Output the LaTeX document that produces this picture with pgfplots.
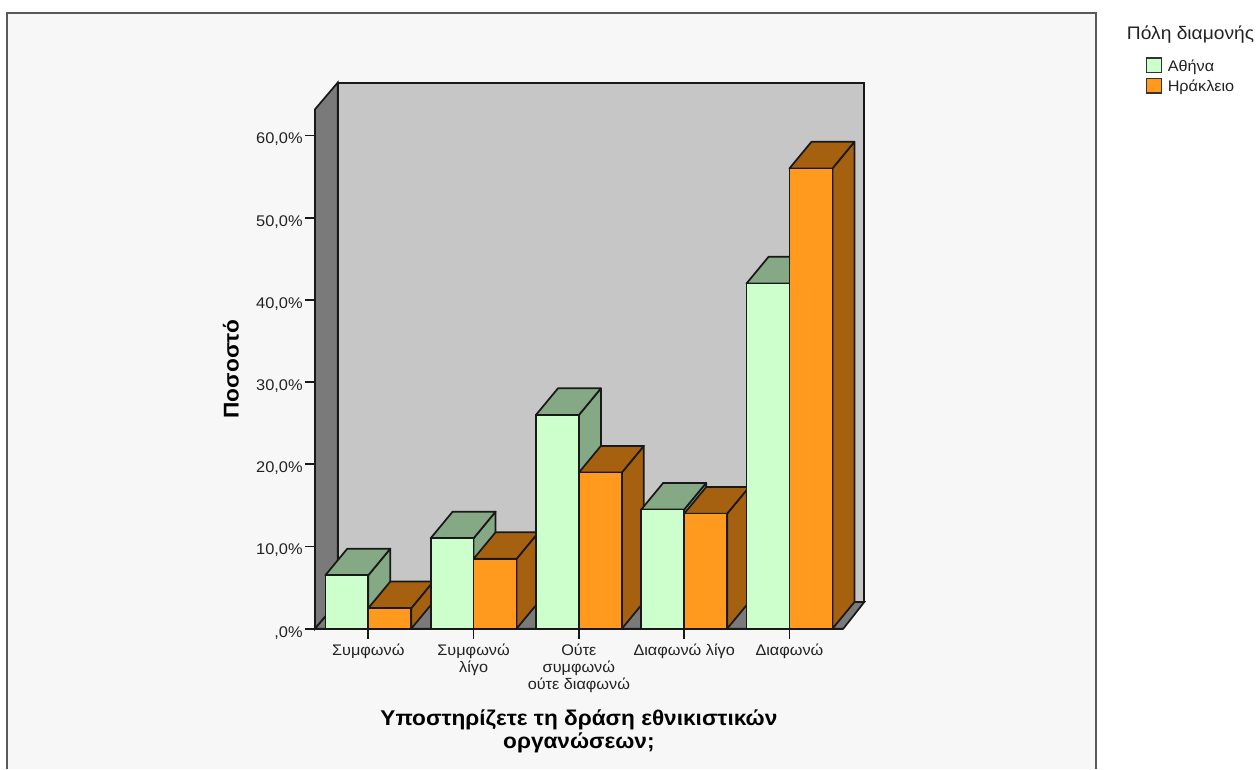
\documentclass[border=0pt]{standalone}
\usepackage{pgfplots}
\pgfplotsset{compat=1.18}
\usepackage{fontspec}
\setmainfont{Liberation Sans}[FakeStretch=1.06]
\definecolor{panel}{HTML}{F7F7F7}
\definecolor{wallback}{HTML}{C6C6C6}
\definecolor{wallside}{HTML}{7A7A7A}
\definecolor{athF}{HTML}{CCFFCC}
\definecolor{athD}{HTML}{85A885}
\definecolor{herF}{HTML}{FF9A1E}
\definecolor{herD}{HTML}{A56010}
\definecolor{txt}{HTML}{222222}
\newcommand{\ddx}{0.209}
\newcommand{\ddy}{3.24}
% #1 left edge, #2 right edge, #3 value, #4 colour
\newcommand{\faces}[4]{%
  \pgfmathsetmacro{\xa}{#1+\ddx}%
  \pgfmathsetmacro{\xb}{#2+\ddx}%
  \pgfmathsetmacro{\yb}{#3+\ddy}%
  \addplot[forget plot,fill=#4,draw=black!90,line width=1.3pt,line join=round] coordinates {(#2,0) (\xb,\ddy) (\xb,\yb) (#2,#3)} -- cycle;
  \addplot[forget plot,fill=#4,draw=black!90,line width=1.3pt,line join=round] coordinates {(#1,#3) (#2,#3) (\xb,\yb) (\xa,\yb)} -- cycle;
}
\begin{document}
\begin{tikzpicture}[x=1pt,y=1pt]
\path[use as bounding box] (0,0) rectangle (942,576.75);
\fill[panel] (5.25,0) rectangle (822,567);
\draw[color=black!65,line width=2pt,line join=miter] (5.25,0) -- (5.25,567) -- (822,567) -- (822,0);
\node[anchor=west,inner sep=0pt,font=\fontsize{13.6}{16}\selectfont,text=txt] at (845,551) {Πόλη διαμονής};
\begin{axis}[
  at={(236.25pt,105.225pt)},anchor=south west,
  scale only axis,width=396.2pt,height=389.55pt,
  xmin=0.4938,xmax=5.511,ymin=0,ymax=63.19,
  clip=false,
  axis lines*=left,axis line style={-,line width=1.5pt,black!90},
  tick align=outside,
  major tick length=7.5pt,
  tick style={line width=1.3pt,black!90},
  xtick={1,2,3,4,5},
  xticklabels={Συμφωνώ,{Συμφωνώ\\λίγο},{Ούτε\\συμφωνώ\\ούτε διαφωνώ},Διαφωνώ λίγο,Διαφωνώ},
  xticklabel style={align=center,font=\fontsize{11.5}{12.8}\selectfont,text=txt,yshift=-0.5pt},
  ytick={0,10,20,30,40,50,60},
  yticklabels={{,0\%},{10,0\%},{20,0\%},{30,0\%},{40,0\%},{50,0\%},{60,0\%}},
  yticklabel style={font=\fontsize{11.6}{13}\selectfont,text=txt,xshift=1.8pt,yshift=-3pt},
  xlabel={Υποστηρίζετε τη δράση εθνικιστικών\\οργανώσεων;},
  every axis x label/.style={at={(axis cs:3,-12.5)},anchor=center,align=center,font=\bfseries\fontsize{16}{17.2}\selectfont,text=black},
  ylabel={Ποσοστό},
  every axis y label/.style={at={(axis cs:-0.304,31.6)},rotate=90,anchor=center,font=\bfseries\fontsize{16}{18}\selectfont,text=black},
  legend style={at={(axis cs:8.385,69.5)},anchor=north west,draw=none,fill=none,inner sep=0pt,outer sep=0pt,
    font=\fontsize{11.5}{13}\selectfont,text=txt,row sep=3.4pt,
    nodes={inner sep=0pt,anchor=west}},
  legend cell align=left,
]
% walls
\addplot[forget plot,fill=wallback,draw=black!90,line width=1.3pt] coordinates {(0.7088,3.24) (5.710,3.24) (5.710,66.43) (0.7088,66.43)} -- cycle;
\addplot[forget plot,fill=wallside,draw=black!90,line width=1.3pt] coordinates {(0.4938,0) (0.7088,3.24) (0.7088,66.43) (0.4938,63.19)} -- cycle;
\addplot[forget plot,fill=wallside,draw=black!90,line width=1.3pt] coordinates {(0.4938,0) (5.511,0) (5.710,3.24) (0.7088,3.24)} -- cycle;
% tops and sides, left to right
\faces{0.592}{1}{6.5}{athD}
\faces{1}{1.408}{2.5}{herD}
\faces{1.592}{2}{11}{athD}
\faces{2}{2.408}{8.5}{herD}
\faces{2.592}{3}{26}{athD}
\faces{3}{3.408}{19}{herD}
\faces{3.592}{4}{14.5}{athD}
\faces{4}{4.408}{14}{herD}
\faces{4.592}{5}{42}{athD}
\faces{5}{5.408}{56}{herD}
% front faces
\addplot[ybar,bar width=32.2pt,bar shift=-16.1pt,fill=athF,draw=black!90,line width=1.3pt,
  legend image code/.code={\draw[fill=athF,draw=black!80,line width=1.1pt] (0pt,-4.7pt) rectangle (11.2pt,6.1pt);\path (15.2pt,0pt);}]
  coordinates {(1,6.5) (2,11) (3,26) (4,14.5) (5,42)};
\addlegendentry{Αθήνα}
\addplot[ybar,bar width=32.2pt,bar shift=16.1pt,fill=herF,draw=black!90,line width=1.3pt,
  legend image code/.code={\draw[fill=herF,draw=black!80,line width=1.1pt] (0pt,-4.7pt) rectangle (11.2pt,6.1pt);\path (15.2pt,0pt);}]
  coordinates {(1,2.5) (2,8.5) (3,19) (4,14) (5,56)};
\addlegendentry{Ηράκλειο}
\end{axis}
\end{tikzpicture}
\end{document}
